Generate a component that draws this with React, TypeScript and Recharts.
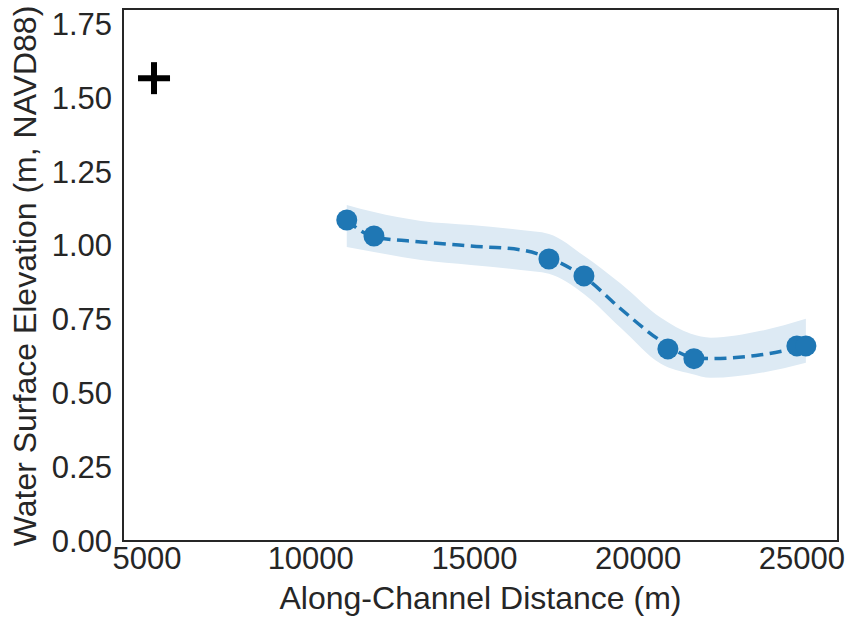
import React from 'react';
import {
  ComposedChart, XAxis, YAxis, Line, Area, Scatter, ReferenceArea, Label,
} from 'recharts';

// Fitted curve samples (along-channel distance, m)
const curveX = [11100, 11930, 13365, 14892, 16418, 17273, 18342, 19471, 20692, 21608, 22219, 23745, 25119];
const curveY = [1.086, 1.029, 1.012, 0.998, 0.985, 0.958, 0.894, 0.785, 0.677, 0.623, 0.617, 0.630, 0.660];
const bandLow = [0.995, 0.978, 0.951, 0.934, 0.917, 0.904, 0.836, 0.721, 0.600, 0.566, 0.552, 0.569, 0.603];
const bandHigh = [1.137, 1.113, 1.083, 1.069, 1.052, 1.039, 0.965, 0.870, 0.755, 0.701, 0.688, 0.711, 0.752];

// Observed stations
const pointX = [11100, 11930, 17273, 18342, 20906, 21700, 24845, 25120];
const pointY = [1.086, 1.032, 0.954, 0.897, 0.650, 0.617, 0.660, 0.660];

// Reference marker (+)
const markerX = [5214];
const markerY = [1.566];

const xTicks = [5000, 10000, 15000, 20000, 25000];
const yTicks = [0, 0.25, 0.5, 0.75, 1.0, 1.25, 1.5, 1.75];
const xDomain = [4267, 26100];
const yDomain = [0, 1.8];

const xLabel = 'Along-Channel Distance (m)';
const yLabel = 'Water Surface Elevation (m, NAVD88)';

const curveData = curveX.map((x, i) => ({ x, y: curveY[i], band: [bandLow[i], bandHigh[i]] }));
const pointData = pointX.map((x, i) => ({ x, y: pointY[i] }));
const markerData = markerX.map((x, i) => ({ x, y: markerY[i] }));

const FONT = '"Liberation Sans", Arial, Helvetica, sans-serif';
const TEXT = '#262626';
const BLUE = '#1f77b4';

const PlusShape = (props: any) => {
  const { cx, cy } = props;
  const a = 16;
  return (
    <g>
      <line x1={cx - a} y1={cy} x2={cx + a} y2={cy} stroke="#000" strokeWidth={6} />
      <line x1={cx} y1={cy - a} x2={cx} y2={cy + a} stroke="#000" strokeWidth={6} />
    </g>
  );
};

const DotShape = (props: any) => {
  const { cx, cy } = props;
  return <circle cx={cx} cy={cy} r={10.5} fill={BLUE} />;
};

export default function App() {
  return (
    <div style={{ position: 'absolute', left: 0, top: 0, width: 850, height: 618, background: '#fff' }}>
      <ComposedChart
        width={850}
        height={618}
        data={curveData}
        margin={{ top: 9, right: 12, left: 0, bottom: 0 }}
      >
        <XAxis
          dataKey="x"
          type="number"
          domain={xDomain}
          ticks={xTicks}
          allowDataOverflow
          height={77}
          axisLine={false}
          tickLine={false}
          tickSize={0}
          tickMargin={6}
          tick={{ fill: TEXT, fontSize: 31, fontFamily: FONT }}
        >
          <Label
            content={(p: any) => {
              const vb = p.viewBox;
              return (
                <text
                  x={vb.x + vb.width / 2}
                  y={vb.y + 68}
                  textAnchor="middle"
                  fill={TEXT}
                  fontSize={32}
                  fontFamily={FONT}
                >
                  {xLabel}
                </text>
              );
            }}
          />
        </XAxis>
        <YAxis
          dataKey="y"
          type="number"
          domain={yDomain}
          ticks={yTicks}
          allowDataOverflow
          width={123}
          axisLine={false}
          tickLine={false}
          tickSize={0}
          tickMargin={11}
          tickFormatter={(v: number) => v.toFixed(2)}
          tick={{ fill: TEXT, fontSize: 31, fontFamily: FONT }}
        >
          <Label
            content={(p: any) => {
              const vb = p.viewBox;
              const cy = vb.y + vb.height / 2 + 1;
              return (
                <text
                  x={36}
                  y={cy}
                  transform={`rotate(-90, 36, ${cy})`}
                  textAnchor="middle"
                  fill={TEXT}
                  fontSize={32}
                  fontFamily={FONT}
                >
                  {yLabel}
                </text>
              );
            }}
          />
        </YAxis>
        <Area
          dataKey="band"
          type="monotone"
          fill="#ddeaf4"
          fillOpacity={1}
          stroke="none"
          isAnimationActive={false}
          activeDot={false}
        />
        <Line
          dataKey="y"
          type="monotone"
          stroke={BLUE}
          strokeWidth={3.5}
          strokeDasharray="12 6.5"
          dot={false}
          activeDot={false}
          isAnimationActive={false}
        />
        <Scatter data={pointData} dataKey="y" shape={<DotShape />} isAnimationActive={false} />
        <Scatter data={markerData} dataKey="y" shape={<PlusShape />} isAnimationActive={false} />
        <ReferenceArea
          x1={xDomain[0]}
          x2={xDomain[1]}
          y1={yDomain[0]}
          y2={yDomain[1]}
          fill="none"
          fillOpacity={0}
          stroke={TEXT}
          strokeWidth={2}
          ifOverflow="visible"
        />
      </ComposedChart>
    </div>
  );
}
